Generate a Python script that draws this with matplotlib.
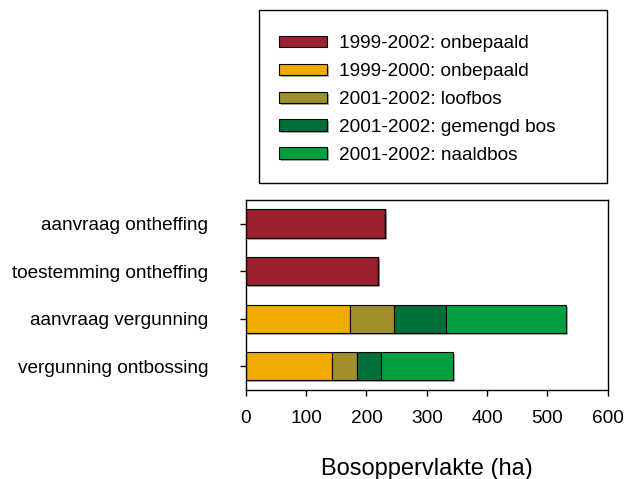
import numpy as np
import matplotlib
matplotlib.use("Agg")
import matplotlib.pyplot as plt
import matplotlib.patheffects as pe
from matplotlib.patches import Rectangle

plt.rcParams['font.family'] = ['Liberation Sans', 'DejaVu Sans']

# Data
categories = ['vergunning ontbossing', 'aanvraag vergunning',
              'toestemming ontheffing', 'aanvraag ontheffing']
series_labels = ['1999-2002: onbepaald', '1999-2000: onbepaald',
                 '2001-2002: loofbos', '2001-2002: gemengd bos',
                 '2001-2002: naaldbos']
onbepaald_9902 = [0, 0, 219, 231]
onbepaald_9900 = [142, 173, 0, 0]
loofbos = [43, 73, 0, 0]
gemengd = [39, 85, 0, 0]
naaldbos = [119, 200, 0, 0]
colors = ['#9B2030', '#F0AA00', '#A0902A', '#00703A', '#00A040']

fig = plt.figure(figsize=(6.24, 4.79), dpi=100)
ax = fig.add_axes([0.394, 0.186, 0.580, 0.397])

series = [onbepaald_9902, onbepaald_9900, loofbos, gemengd, naaldbos]
y = np.arange(len(categories))
left = np.zeros(len(categories))
shadow = [pe.SimplePatchShadow(offset=(1.5, -1.5), shadow_rgbFace='#999999', alpha=0.8), pe.Normal()]
handles = []
for vals, col, lab in zip(series, colors, series_labels):
    vals = np.array(vals, dtype=float)
    bars = ax.barh(y, vals, left=left, height=0.59, color=col,
                   edgecolor='black', linewidth=0.8, label=lab)
    for b in bars:
        if b.get_width() > 0:
            b.set_path_effects(shadow)
    handles.append(bars)
    left += vals

ax.set_xlim(0, 600)
ax.set_ylim(-0.5, 3.5)
ax.set_xticks([0, 100, 200, 300, 400, 500, 600])
ax.set_yticks(y)
ax.set_yticklabels(categories)
ax.tick_params(axis='both', labelsize=13.7, direction='out', length=4, width=1)
ax.tick_params(axis='y', pad=23)
ax.tick_params(axis='x', pad=10.5)
ax.set_xlabel('Bosoppervlakte (ha)', fontsize=17, labelpad=22)
for s in ax.spines.values():
    s.set_linewidth(1)

# legend box
box = Rectangle((0.415, 0.618), 0.558, 0.361, transform=fig.transFigure,
                facecolor='white', edgecolor='black', linewidth=1)
fig.patches.append(box)
fig.legend(handles=handles, labels=series_labels, loc='upper left',
           bbox_to_anchor=(0.42, 0.962), frameon=False, fontsize=13.7,
           handlelength=2.5, handleheight=0.55, handletextpad=0.62,
           labelspacing=0.57)

fig.savefig('out.png', dpi=100)
